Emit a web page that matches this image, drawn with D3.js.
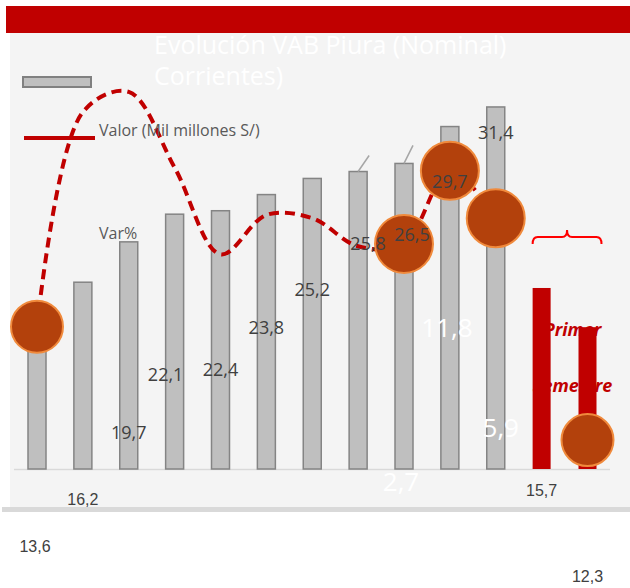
<!DOCTYPE html>
<html>
<head>
<meta charset="utf-8">
<script src="https://cdn.jsdelivr.net/npm/d3@7"></script>
<style>
  html, body { margin: 0; padding: 0; background: #ffffff; }
  svg { display: block; }
</style>
</head>
<body>
<svg id="chart" width="630" height="588"></svg>
<script>
// ---------- data ----------
const categories = ["2007","2008","2009","2010","2011","2012","2013","2014","2015","2016","2017","I Sem 2017","I Sem 2018"];
const valores = [13.6, 16.2, 19.7, 22.1, 22.4, 23.8, 25.2, 25.8, 26.5, 29.7, 31.4, 15.7, 12.3];
const valorLabels = ["13,6","16,2","19,7","22,1","22,4","23,8","25,2","25,8","26,5","29,7","31,4","15,7","12,3"];
const varPct = [-7.6, 19.1, 21.6, 12.2, 1.4, 6.3, 5.9, 2.4, 2.7, 11.8, 5.9, null, -21.7];
const varLabels = ["11,8", "5,9", "2,7"];
const varLabelCats = ["2016", "2017", "2015"];
const semestreCats = ["I Sem 2017", "I Sem 2018"];
const markerCats = ["2007", "2015", "2016", "2017", "I Sem 2018"];
const titleLines = ["Evolución VAB Piura (Nominal)", "Corrientes)"];
const legendLabels = ["Valor (Mil millones S/)", "Var%"];

// ---------- layout ----------
const svg = d3.select("#chart");
const baseY = 469;
const x = d3.scalePoint().domain(categories).range([37, 587.5]);
const y = d3.scaleLinear().domain([0, 35]).range([baseY, baseY - 35 * 11.53]);
const y2 = d3.scaleLinear().domain([-25, 30]).range([265.6 + 25 * 8.04, 265.6 - 30 * 8.04]);
const barW = 18;

// background pieces
svg.append("rect").attr("x", 6).attr("y", 6).attr("width", 624).attr("height", 27).attr("fill", "#C00000");
svg.append("rect").attr("x", 10).attr("y", 33).attr("width", 620).attr("height", 474).attr("fill", "#F4F4F4");
svg.append("rect").attr("x", 2).attr("y", 507).attr("width", 628).attr("height", 5).attr("fill", "#D9D9D9");

// title
svg.append("g").selectAll("text").data(titleLines).join("text")
  .attr("x", 154).attr("y", (d, i) => 54 + i * 31)
  .attr("font-family", "'Open Sans', sans-serif").attr("font-size", 25)
  .attr("fill", "#FFFFFF").text(d => d);

// axis baseline
svg.append("line").attr("x1", 14).attr("x2", 610).attr("y1", baseY + 0.5).attr("y2", baseY + 0.5)
  .attr("stroke", "#D9D9D9").attr("stroke-width", 1.5);

// "Primer Semestre" text (drawn under the red bars)
const semCenter = (x(semestreCats[0]) + x(semestreCats[1])) / 2 + 8;
svg.append("g").selectAll("text").data(["Primer", "Semestre"]).join("text")
  .attr("x", semCenter).attr("y", (d, i) => 336 + i * 56)
  .attr("text-anchor", "middle")
  .attr("font-family", "'Open Sans', sans-serif").attr("font-size", 18)
  .attr("font-weight", "bold").attr("font-style", "italic")
  .attr("fill", "#C00000").text(d => d);

// bars
svg.append("g").selectAll("rect").data(categories).join("rect")
  .attr("x", d => x(d) - barW / 2)
  .attr("y", (d, i) => y(valores[i]))
  .attr("width", barW)
  .attr("height", (d, i) => baseY - y(valores[i]))
  .attr("fill", d => semestreCats.includes(d) ? "#C00000" : "#BFBFBF")
  .attr("stroke", d => semestreCats.includes(d) ? "none" : "#848484")
  .attr("stroke-width", 1.5);

// leader lines
[["2014", 11, -16], ["2015", 9, -18]].forEach(([c, dx, dy]) => {
  const i = categories.indexOf(c);
  svg.append("line")
    .attr("x1", x(c)).attr("y1", y(valores[i]))
    .attr("x2", x(c) + dx).attr("y2", y(valores[i]) + dy)
    .attr("stroke", "#A6A6A6").attr("stroke-width", 1.5);
});

// brace over semester bars
const bx0 = x(semestreCats[0]) - barW / 2, bx1 = x(semestreCats[1]) + barW / 2 + 5, by = 237;
const bm = (bx0 + bx1) / 2;
svg.append("path")
  .attr("d", `M${bx0},${by + 7} Q${bx0},${by} ${bx0 + 5},${by} L${bm - 5},${by} Q${bm},${by} ${bm},${by - 7} Q${bm},${by} ${bm + 5},${by} L${bx1 - 5},${by} Q${bx1},${by} ${bx1},${by + 7}`)
  .attr("fill", "none").attr("stroke", "#FF0000").attr("stroke-width", 2);

// var% line
const pts = categories.map((c, i) => ({ c, v: varPct[i] }));
const line = d3.line()
  .defined(d => d.v !== null)
  .x(d => x(d.c)).y(d => y2(d.v))
  .curve(d3.curveCatmullRom.alpha(0.5));
svg.append("path").datum(pts).attr("d", line)
  .attr("fill", "none").attr("stroke", "#C00000").attr("stroke-width", 4)
  .attr("stroke-dasharray", "10,6");

// markers
const markerR = { "2007": 26, "I Sem 2018": 26 };
svg.append("g").selectAll("circle").data(markerCats).join("circle")
  .attr("cx", d => x(d))
  .attr("cy", d => y2(varPct[categories.indexOf(d)]))
  .attr("r", d => markerR[d] || 29)
  .attr("fill", "#B3410C").attr("stroke", "#F08A3C").attr("stroke-width", 2);

// legend
svg.append("rect").attr("x", 23).attr("y", 77).attr("width", 68).attr("height", 10)
  .attr("fill", "#BFBFBF").attr("stroke", "#808080").attr("stroke-width", 2);
svg.append("line").attr("x1", 24).attr("x2", 95).attr("y1", 138).attr("y2", 138)
  .attr("stroke", "#C00000").attr("stroke-width", 4);
svg.append("g").selectAll("text").data(legendLabels).join("text")
  .attr("x", 99).attr("y", (d, i) => i === 0 ? 136 : 239)
  .attr("font-family", "'Open Sans', sans-serif").attr("font-size", 16)
  .attr("fill", "#595959").text(d => d);

// value labels
const labelOffset = [[-2, 234], [0, 217], [0, 191], [-9, 161], [0, 159], [0, 133], [0, 111], [10, 72], [8, 71], [0, 55], [0, 26], [0, 202], [0, 249]];
const arialIdx = [0, 1, 11, 12];
svg.append("g").selectAll("text").data(categories).join("text")
  .attr("x", (d, i) => x(d) + labelOffset[i][0])
  .attr("y", (d, i) => y(valores[i]) + labelOffset[i][1])
  .attr("dy", "0.35em")
  .attr("text-anchor", "middle")
  .attr("font-family", (d, i) => arialIdx.includes(i) ? "'Liberation Sans', Arial, sans-serif" : "'Open Sans', sans-serif")
  .attr("font-size", (d, i) => arialIdx.includes(i) ? 16 : 18)
  .attr("fill", "#404040")
  .text((d, i) => valorLabels[i]);

// white var% labels
const varLabelDy = [328, 428, 482];
svg.append("g").selectAll("text").data(varLabels).join("text")
  .attr("x", (d, i) => x(varLabelCats[i]) + [-3, 5, -3][i])
  .attr("y", (d, i) => varLabelDy[i])
  .attr("dy", "0.35em")
  .attr("text-anchor", "middle")
  .attr("font-family", "'Open Sans', sans-serif").attr("font-size", 26)
  .attr("fill", "#FFFFFF").text(d => d);
</script>
</body>
</html>
